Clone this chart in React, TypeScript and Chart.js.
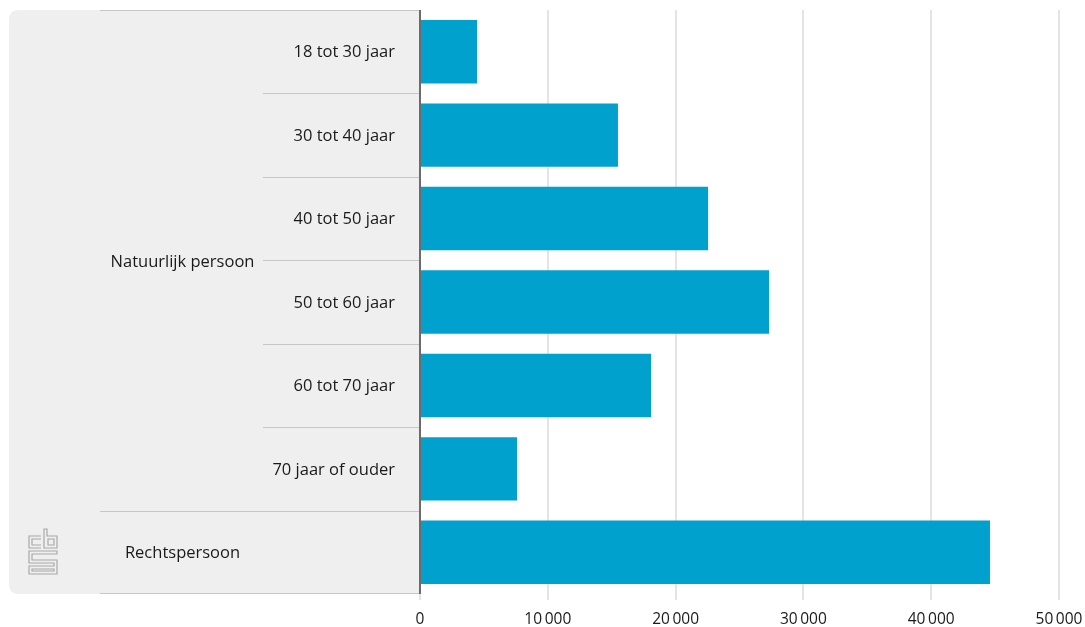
import React, { useEffect, useRef } from "react";
import { Chart, registerables } from "chart.js";

Chart.register(...registerables);

const categories = [
  "18 tot 30 jaar",
  "30 tot 40 jaar",
  "40 tot 50 jaar",
  "50 tot 60 jaar",
  "60 tot 70 jaar",
  "70 jaar of ouder",
  "Rechtspersoon",
];
const groupOf = [
  "Natuurlijk persoon",
  "Natuurlijk persoon",
  "Natuurlijk persoon",
  "Natuurlijk persoon",
  "Natuurlijk persoon",
  "Natuurlijk persoon",
  "Rechtspersoon",
];
const values = [4460, 15490, 22540, 27310, 18080, 7590, 44600];
const xTicks = [0, 10000, 20000, 30000, 40000, 50000];

const FONT = "'Open Sans', 'Noto Sans', sans-serif";
const BAR_COLOR = "#00a1cd";

function fmt(v: number): string {
  const s = String(Math.round(v));
  return s.replace(/\B(?=(\d{3})+(?!\d))/g, "\u2009");
}

const panelPlugin = {
  id: "panelPlugin",
  beforeDraw(chart: any) {
    const { ctx, chartArea, scales } = chart;
    const y = scales.y;
    const top = chartArea.top;
    const bottom = chartArea.bottom;
    const left = 9;
    const right = chartArea.left;
    const band = (bottom - top) / categories.length;
    ctx.save();
    const r = 10;
    ctx.fillStyle = "#efefef";
    ctx.beginPath();
    ctx.moveTo(right, top);
    ctx.lineTo(left + r, top);
    ctx.quadraticCurveTo(left, top, left, top + r);
    ctx.lineTo(left, bottom - r);
    ctx.quadraticCurveTo(left, bottom, left + r, bottom);
    ctx.lineTo(right, bottom);
    ctx.closePath();
    ctx.fill();

    const groupColL = 100;
    const subColL = 263;
    ctx.strokeStyle = "#c6c6c6";
    ctx.lineWidth = 1;
    const hline = (x0: number, yy: number) => {
      ctx.beginPath();
      ctx.moveTo(x0, Math.round(yy) + 0.5);
      ctx.lineTo(right, Math.round(yy) + 0.5);
      ctx.stroke();
    };
    hline(groupColL, top);
    hline(groupColL, bottom - 1);
    for (let i = 1; i < categories.length; i++) {
      const yy = top + band * i;
      if (groupOf[i] !== groupOf[i - 1]) hline(groupColL, yy);
      else hline(subColL, yy);
    }

    ctx.fillStyle = "#1a1a1a";
    ctx.font = `16.5px ${FONT}`;
    ctx.textBaseline = "middle";
    const groupCenter = (groupColL + subColL) / 2 + 1;
    const seen: Record<string, number[]> = {};
    categories.forEach((c, i) => {
      const g = groupOf[i];
      (seen[g] = seen[g] || []).push(i);
    });
    Object.keys(seen).forEach((g) => {
      const idx = seen[g];
      if (idx.length === 1 && categories[idx[0]] === g) {
        ctx.textAlign = "center";
        ctx.fillText(g, groupCenter, y.getPixelForValue(idx[0]) + 1);
      } else {
        const y0 = top + band * idx[0];
        const y1 = top + band * (idx[idx.length - 1] + 1);
        ctx.textAlign = "center";
        ctx.fillText(g, groupCenter, (y0 + y1) / 2 + 2);
        idx.forEach((i) => {
          ctx.textAlign = "right";
          ctx.fillText(categories[i], right - 25, y.getPixelForValue(i) + 1);
        });
      }
    });

    ctx.strokeStyle = "#a8a8a8";
    ctx.lineWidth = 1.2;
    const lx = 28, ly = 528;
    ctx.beginPath();
    ctx.moveTo(lx + 13, ly + 8);
    ctx.lineTo(lx + 1, ly + 8);
    ctx.lineTo(lx + 1, ly + 20);
    ctx.lineTo(lx + 13, ly + 20);
    ctx.moveTo(lx + 13, ly + 11);
    ctx.lineTo(lx + 4, ly + 11);
    ctx.lineTo(lx + 4, ly + 17);
    ctx.lineTo(lx + 13, ly + 17);
    ctx.stroke();
    ctx.beginPath();
    ctx.moveTo(lx + 16, ly + 1);
    ctx.lineTo(lx + 16, ly + 20);
    ctx.lineTo(lx + 29, ly + 20);
    ctx.lineTo(lx + 29, ly + 8);
    ctx.lineTo(lx + 19, ly + 8);
    ctx.lineTo(lx + 19, ly + 1);
    ctx.closePath();
    ctx.rect(lx + 20, ly + 11, 6, 6);
    ctx.stroke();
    ctx.beginPath();
    ctx.moveTo(lx + 29, ly + 23);
    ctx.lineTo(lx + 1, ly + 23);
    ctx.lineTo(lx + 1, ly + 35);
    ctx.lineTo(lx + 26, ly + 35);
    ctx.lineTo(lx + 26, ly + 38);
    ctx.lineTo(lx + 1, ly + 38);
    ctx.lineTo(lx + 1, ly + 46);
    ctx.lineTo(lx + 29, ly + 46);
    ctx.lineTo(lx + 29, ly + 32);
    ctx.lineTo(lx + 4, ly + 32);
    ctx.lineTo(lx + 4, ly + 26);
    ctx.lineTo(lx + 29, ly + 26);
    ctx.closePath();
    ctx.moveTo(lx + 4, ly + 41);
    ctx.lineTo(lx + 26, ly + 41);
    ctx.lineTo(lx + 26, ly + 43);
    ctx.lineTo(lx + 4, ly + 43);
    ctx.closePath();
    ctx.stroke();
    ctx.restore();
  },
  afterDatasetsDraw(chart: any) {
    const { ctx, chartArea } = chart;
    ctx.save();
    ctx.strokeStyle = "#6b6b6b";
    ctx.lineWidth = 2;
    ctx.beginPath();
    ctx.moveTo(chartArea.left, chartArea.top);
    ctx.lineTo(chartArea.left, chartArea.bottom);
    ctx.stroke();
    ctx.restore();
  },
};

export default function App() {
  const ref = useRef<HTMLCanvasElement | null>(null);
  useEffect(() => {
    document.body.style.margin = "0";
    document.documentElement.style.overflow = "hidden";
    if (!ref.current) return;
    const chart = new Chart(ref.current, {
      type: "bar",
      data: {
        labels: categories,
        datasets: [
          {
            data: values,
            backgroundColor: BAR_COLOR,
            borderWidth: 0,
            barPercentage: 0.76,
            categoryPercentage: 1,
          },
        ],
      },
      options: {
        indexAxis: "y",
        animation: false,
        responsive: true,
        maintainAspectRatio: false,
        layout: { padding: { top: 10, right: 26, left: 0, bottom: 0 } },
        plugins: {
          legend: { display: false },
          tooltip: { enabled: false },
        },
        scales: {
          x: {
            min: 0,
            max: 50000,
            afterBuildTicks: (s: any) => {
              s.ticks = xTicks.map((v) => ({ value: v }));
            },
            afterFit: (s: any) => {
              s.height = 33;
              s.paddingRight = 0;
              s.paddingLeft = 0;
            },
            grid: {
              color: "#e4e4e4",
              lineWidth: 2,
              tickLength: 6,
              drawTicks: true,
            },
            border: { display: false },
            ticks: {
              padding: 10,
              color: "#1a1a1a",
              font: { family: FONT, size: 15.5 },
              maxRotation: 0,
              callback: (v: any) => fmt(Number(v)),
            },
          },
          y: {
            afterFit: (s: any) => {
              s.width = 420;
            },
            grid: { display: false },
            border: { display: false },
            ticks: { display: false },
          },
        },
      },
      plugins: [panelPlugin],
    });
    return () => chart.destroy();
  }, []);
  return (
    <div style={{ width: 1085, height: 627, position: "relative" }}>
      <canvas ref={ref} />
    </div>
  );
}
